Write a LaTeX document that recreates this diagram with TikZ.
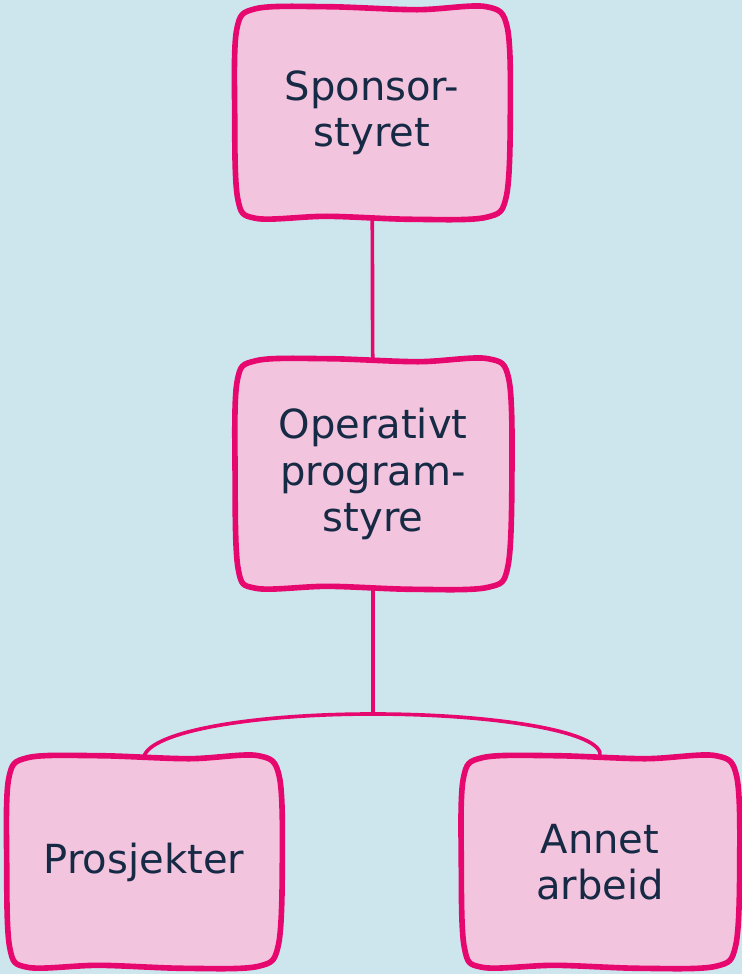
\documentclass[tikz,border=0pt]{standalone}
\usepackage{fontspec}
\setmainfont{DejaVu Sans}
\usetikzlibrary{positioning,calc}
\definecolor{bgblue}{HTML}{CDE6ED}
\definecolor{boxpink}{HTML}{F2C4DD}
\definecolor{magline}{HTML}{E6086E}
\definecolor{navytext}{HTML}{172A45}
\pgfdeclarelayer{bg}
\pgfdeclarelayer{rims}
\pgfsetlayers{bg,rims,main}
% hand-drawn outline round a board node
\newcommand{\Rim}[1]{%
  \filldraw[rimline] plot[smooth cycle, tension=0.55] coordinates {
    ($(#1.north west)+(1,22)$) ($(#1.north west)+(20,1)$)
    ($(#1.north)+(-45,-1)$) ($(#1.north)+(45,2)$)
    ($(#1.north east)+(-22,-1)$) ($(#1.north east)+(-1,20)$)
    ($(#1.east)+(2,0)$)
    ($(#1.south east)+(-2,-22)$) ($(#1.south east)+(-22,-1)$)
    ($(#1.south)+(40,1)$) ($(#1.south)+(-45,-2)$)
    ($(#1.south west)+(20,0)$) ($(#1.south west)+(2,-20)$)
    ($(#1.west)+(-1,0)$)};}

\begin{document}
\begin{tikzpicture}[x=0.025cm,y=-0.025cm
        ,board/.style = {align=center, text=navytext,
            font=\fontsize{28.5}{33}\selectfont, inner sep=0pt,
            minimum width=6.8cm, minimum height=5.25cm}
        ,rimline/.style = {draw=magline, fill=boxpink, line width=4pt}
        ,link/.style = {draw=magline, line width=2.6pt}
      ]
      \begin{pgfonlayer}{bg}
        \fill[bgblue] (0,0) rectangle (742,974);
      \end{pgfonlayer}
      \useasboundingbox (0,0) rectangle (742,974);

      \node[board] (spons) at (372,113) {Sponsor-\\styret};
      \node[board, minimum width=6.83cm, minimum height=5.7cm] (oper) at (373,474)
          {Operativt\\program-\\styre};
      \node[board] (prosj) at (144,862) {Prosjekter};
      \node[board, minimum width=6.87cm] (annet) at (600,862) {Annet\\arbeid};

      \begin{pgfonlayer}{rims}
        \foreach \b in {spons,oper,prosj,annet} {\Rim{\b}}
      \end{pgfonlayer}

      \coordinate (fork) at (373,714);
      \draw[link] (spons) -- (oper);
      \draw[link] (oper) -- (fork);
      \draw[link] (prosj.north) .. controls (150,732) and (250,714) .. (fork)
          .. controls (496,714) and (606,732) .. (annet.north);
    \end{tikzpicture}
\end{document}
